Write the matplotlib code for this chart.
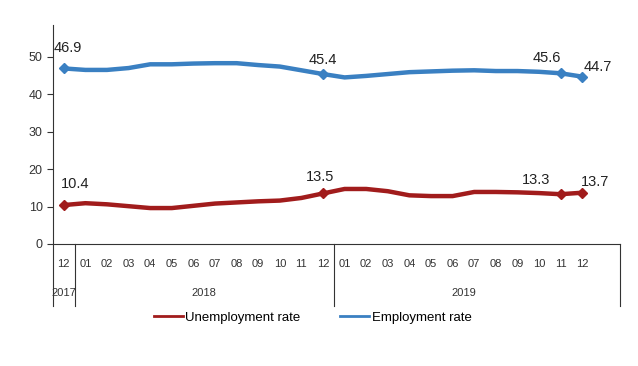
import matplotlib.pyplot as plt
from matplotlib.lines import Line2D
import matplotlib.transforms as mtransforms

plt.rcParams['font.family'] = ['Liberation Sans', 'DejaVu Sans']

months = ['12'] + ['%02d' % m for m in range(1, 13)] * 2
years = ['2017', '2018', '2019']
year_sizes = [1, 12, 12]

employment = [46.9, 46.5, 46.5, 47.0, 48.0, 48.0, 48.2, 48.3, 48.3, 47.8, 47.4, 46.4, 45.4,
              44.5, 44.9, 45.4, 45.9, 46.1, 46.3, 46.4, 46.2, 46.2, 46.0, 45.6, 44.7]
unemployment = [10.4, 10.9, 10.6, 10.1, 9.6, 9.6, 10.2, 10.8, 11.1, 11.4, 11.6, 12.3, 13.5,
                14.7, 14.7, 14.1, 13.0, 12.8, 12.8, 13.9, 13.9, 13.8, 13.6, 13.3, 13.7]
labelled = [0, 12, 23, 24]

blue = '#3a80c2'
red = '#a11c1c'

fig = plt.figure(figsize=(6.38, 3.66), dpi=100)
ax = fig.add_axes([53 / 638, (366 - 244) / 366, (620 - 53) / 638, 219 / 366])

x = list(range(len(months)))
ax.plot(x, unemployment, color=red, lw=3.2, solid_capstyle='round')
ax.plot(x, employment, color=blue, lw=3.2, solid_capstyle='round')
ax.plot([x[i] for i in labelled], [unemployment[i] for i in labelled], 'D', color=red, ms=5.5)
ax.plot([x[i] for i in labelled], [employment[i] for i in labelled], 'D', color=blue, ms=5.5)

# data labels
emp_off = {0: (3, 10), 12: (0, 5), 23: (-10, 6), 24: (11, 2)}
une_off = {0: (8, 10), 12: (-2, 7), 23: (-18, 5), 24: (9, 3)}
for i in labelled:
    ax.annotate('%.1f' % employment[i], (x[i], employment[i]), xytext=emp_off[i],
                textcoords='offset points', ha='center', va='bottom', fontsize=10.5, color='#222222')
    ax.annotate('%.1f' % unemployment[i], (x[i], unemployment[i]), xytext=une_off[i],
                textcoords='offset points', ha='center', va='bottom', fontsize=10.5, color='#222222')

ax.set_xlim(-0.5, 25.75)
ax.set_ylim(0, 58.5)
ax.set_yticks([0, 10, 20, 30, 40, 50])
ax.tick_params(axis='y', labelsize=9, length=4, color='#333333', labelcolor='#333333')
ax.set_xticks(x)
ax.set_xticklabels(months)
ax.tick_params(axis='x', length=0, labelsize=8, pad=11, labelcolor='#333333')
for s in ['top', 'right']:
    ax.spines[s].set_visible(False)
for s in ['left', 'bottom']:
    ax.spines[s].set_color('#333333')

# year groups below the axis
trans = mtransforms.blended_transform_factory(ax.transData, ax.transAxes)
ax.plot([-0.5, -0.5], [0, -0.283], color='#333333', lw=0.8, transform=trans, clip_on=False)
start = -0.5
for yr, n in zip(years, year_sizes):
    end = start + n
    if yr == years[-1]:
        end = 25.75
    ax.plot([end, end], [0, -0.283], color='#333333', lw=0.8, transform=trans, clip_on=False)
    mid = start + n / 2
    ax.text(mid, -0.225, yr, transform=trans, ha='center', va='center', fontsize=8, color='#333333')
    start = end

handles = [Line2D([], [], color=red, lw=2), Line2D([], [], color=blue, lw=2)]
fig.legend(handles, ['Unemployment rate', 'Employment rate'], loc='center',
           bbox_to_anchor=(0.49, 0.132), ncol=2, frameon=False, fontsize=9.5,
           handlelength=2.2, handletextpad=0.2, columnspacing=3)

fig.savefig('out.png', dpi=100)
